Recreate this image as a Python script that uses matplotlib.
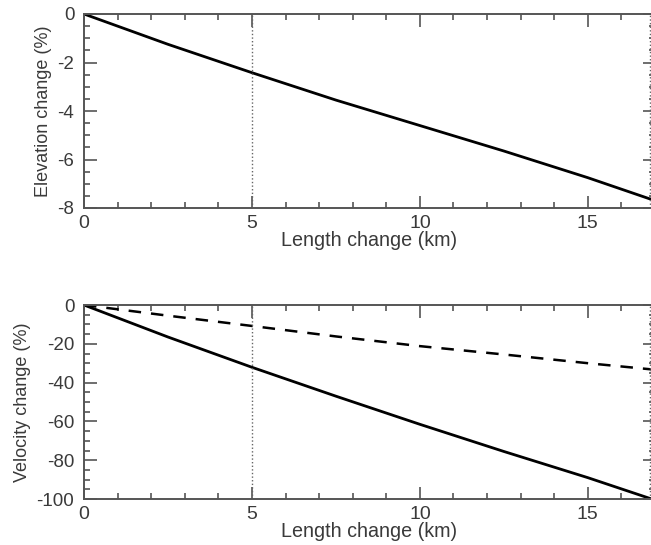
import numpy as np
import matplotlib
matplotlib.use("Agg")
import matplotlib.pyplot as plt
from matplotlib.ticker import MultipleLocator

plt.rcParams['font.family'] = ['Liberation Sans', 'DejaVu Sans']
plt.rcParams['axes.unicode_minus'] = False

# values
length_km = [0, 2.5, 5, 7.5, 10, 12.5, 15, 16.9]
elev_change = [0, -1.25, -2.42, -3.55, -4.6, -5.65, -6.75, -7.65]
vel_change = [0, -16.5, -32.1, -47.0, -61.5, -75.5, -89.0, -100.0]
vel_change_dash = [0, -5.5, -10.8, -16.2, -21.2, -25.5, -30.0, -33.2]
marker_x = [5, 16.85]
xticks = [0, 5, 10, 15]

gray = '#555555'
tcol = '#3a3a3a'

fig = plt.figure(figsize=(6.51, 5.45), dpi=100)
ax1 = fig.add_axes([84/651, 1-208/545, 571/651, 194/545])
ax2 = fig.add_axes([84/651, 1-499/545, 571/651, 194/545])

def style(ax, ymaj, ymin):
    ax.set_xlim(0, 17)
    ax.set_xticks(xticks)
    ax.xaxis.set_minor_locator(MultipleLocator(1))
    ax.yaxis.set_major_locator(MultipleLocator(ymaj))
    ax.yaxis.set_minor_locator(MultipleLocator(ymin))
    ax.tick_params(which='both', direction='in', top=True, right=True,
                   color=gray, width=1.2, labelcolor=tcol)
    ax.tick_params(which='major', length=9)
    ax.tick_params(which='minor', length=4.5)
    ax.tick_params(axis='x', labelsize=14, pad=5)
    ax.tick_params(axis='y', labelsize=13.5, pad=7)
    for s in ax.spines.values():
        s.set_color(gray)
        s.set_linewidth(1.4)
    for xm in marker_x:
        ax.axvline(xm, color='#666666', lw=1.0, ls=(0, (1, 1.6)))
    ax.set_xlabel('Length change (km)', fontsize=14.2, color=tcol, labelpad=-0.5)

ax1.plot(length_km, elev_change, color='black', lw=2)
ax1.set_ylim(-8, 0)
style(ax1, 2, 0.5)
ax1.set_ylabel('Elevation change (%)', fontsize=13, color=tcol, labelpad=4)

ax2.plot(length_km, vel_change, color='black', lw=2)
ax2.plot(length_km, vel_change_dash, color='black', lw=1.8, ls=(0, (5, 4)))
ax2.set_ylim(-100, 0)
style(ax2, 20, 5)
ax2.set_ylabel('Velocity change (%)', fontsize=13, color=tcol, labelpad=4)

fig.savefig('out.png', dpi=100)
